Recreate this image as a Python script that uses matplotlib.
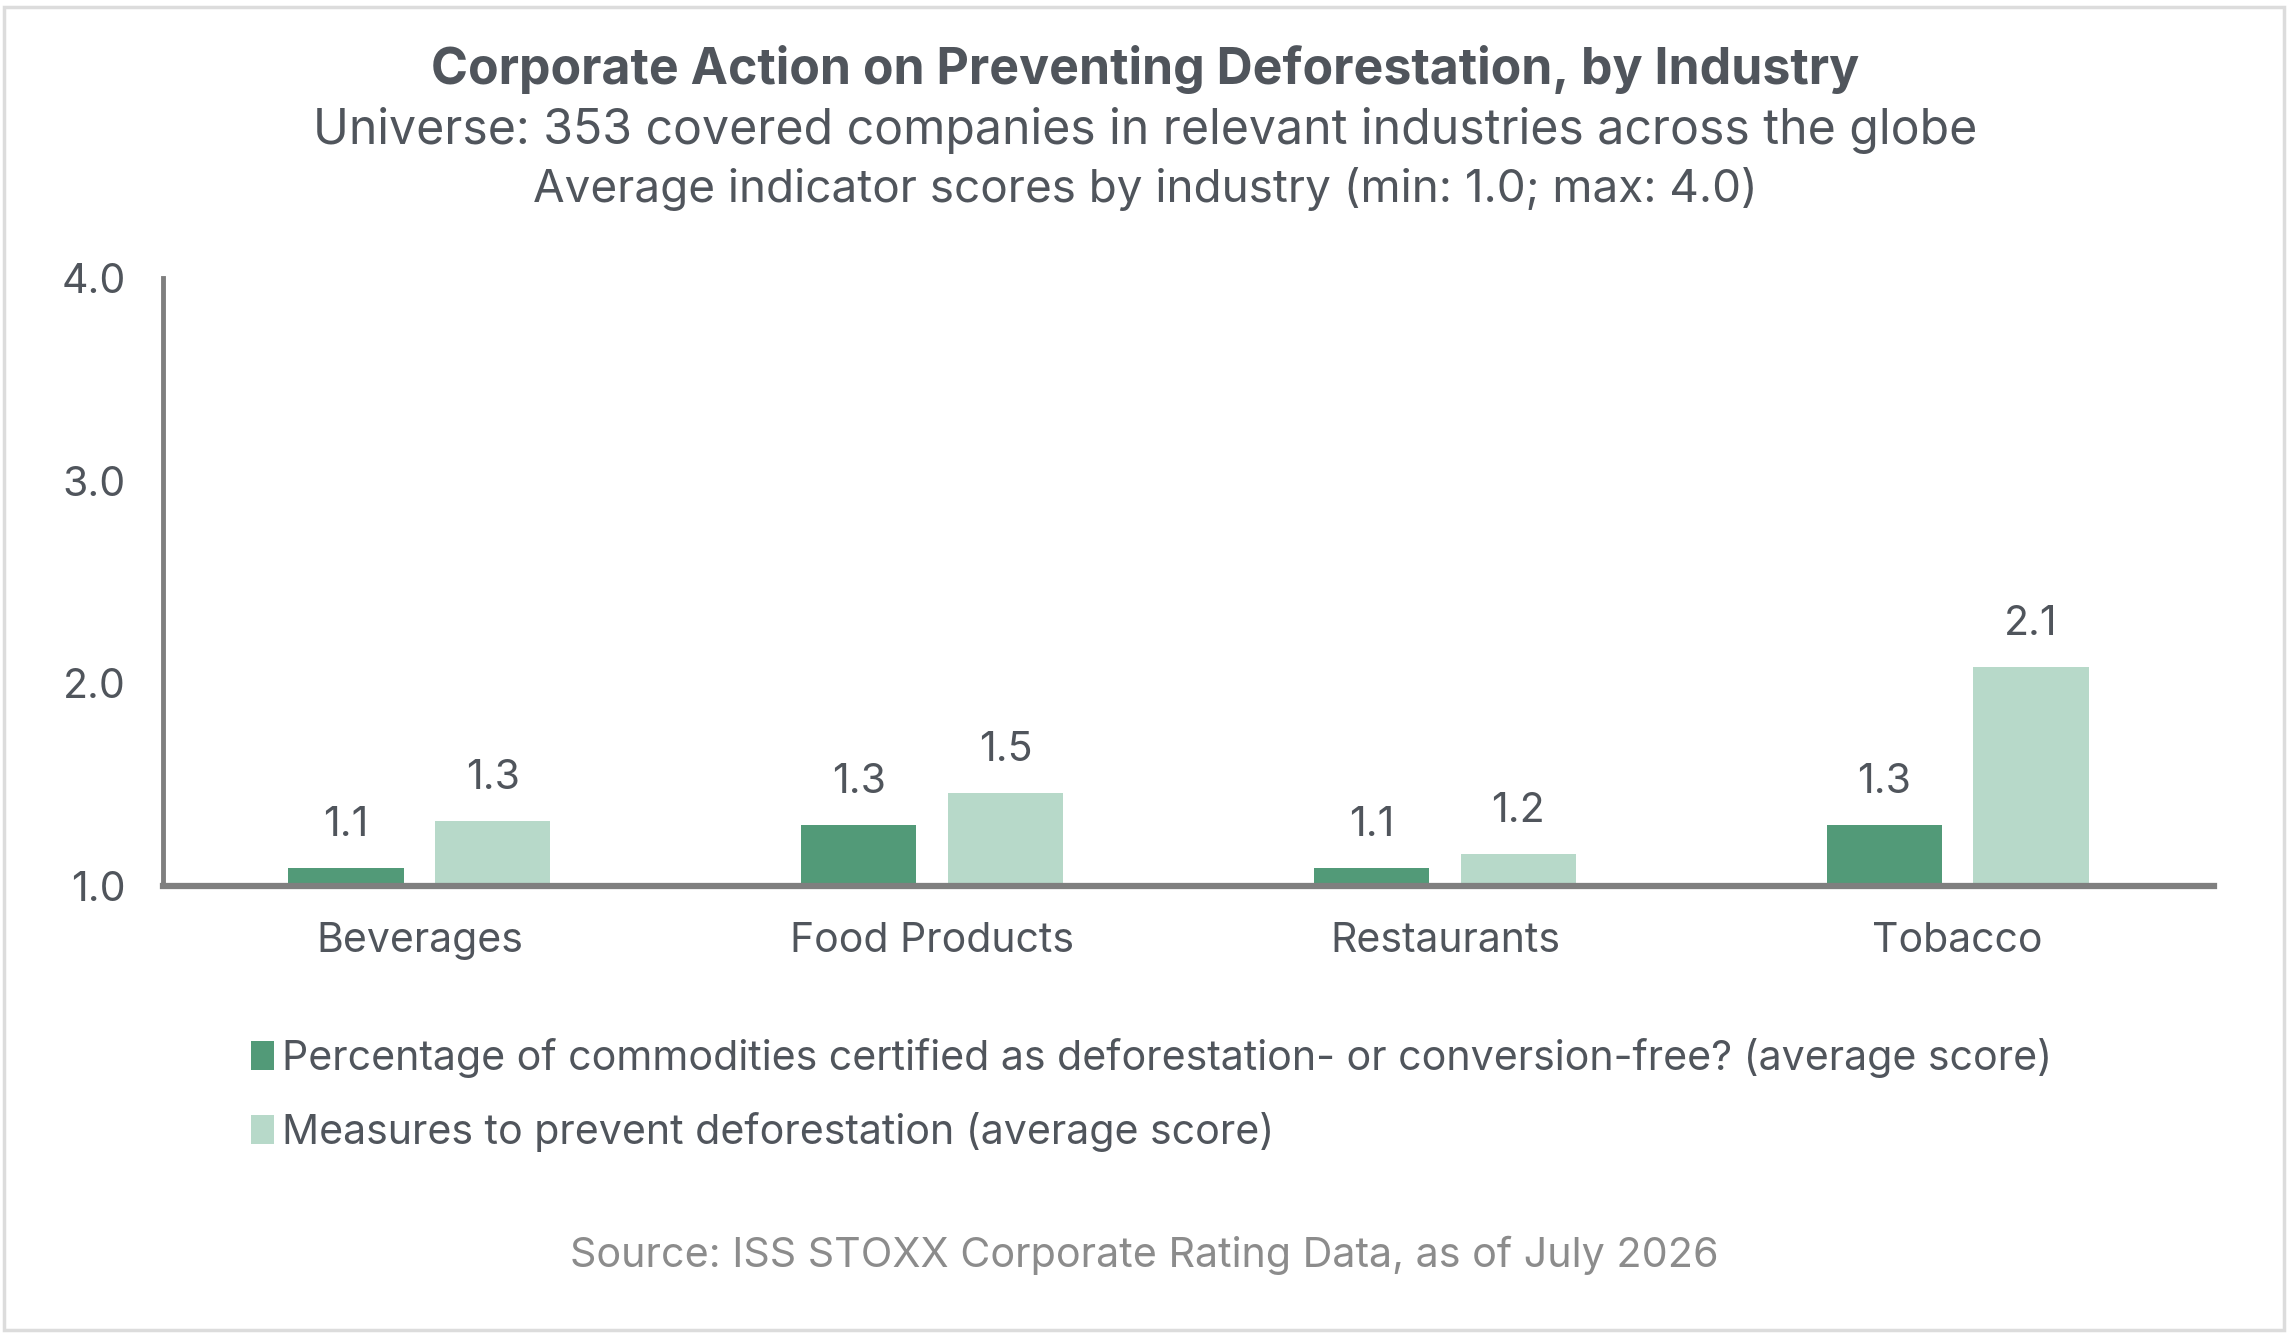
import matplotlib.pyplot as plt
import numpy as np
from matplotlib.patches import Patch, Rectangle

plt.rcParams["font.family"] = ["Inter", "DejaVu Sans"]

industries = ["Beverages", "Food Products", "Restaurants", "Tobacco"]
certified_scores = [1.09, 1.30, 1.09, 1.30]
measures_scores = [1.32, 1.46, 1.16, 2.08]
series_names = [
    "Percentage of commodities certified as deforestation- or conversion-free? (average score)",
    "Measures to prevent deforestation (average score)",
]
y_ticks = [1.0, 2.0, 3.0, 4.0]

DARK = "#529a78"
LIGHT = "#b7d9c9"
TEXT = "#50555c"
AXIS = "#7f7f7f"

W, H = 2291, 1333
fig = plt.figure(figsize=(W / 100, H / 100), dpi=100)
fig.patch.set_facecolor("white")

# light frame round the whole picture
fig.add_artist(Rectangle((4 / W, 3 / H), 1 - 11 / W, 1 - 10 / H, transform=fig.transFigure,
                         fill=False, edgecolor="#dcdcdc", linewidth=2.5))

ax = fig.add_axes([163 / W, 447 / H, (2214 - 163) / W, (886 - 278) / H])

x = np.arange(len(industries))
width = 0.225
off = 0.143
base = 1.0
b1 = ax.bar(x - off, np.array(certified_scores) - base, width, bottom=base, color=DARK)
b2 = ax.bar(x + off, np.array(measures_scores) - base, width, bottom=base, color=LIGHT)

for bars, vals in [(b1, certified_scores), (b2, measures_scores)]:
    for bar, v in zip(bars, vals):
        ax.annotate(f"{v:.1f}", (bar.get_x() + bar.get_width() / 2, v),
                    xytext=(0, 31), textcoords="offset points",
                    ha="center", va="center", fontsize=29.5, color=TEXT)

ax.set_xlim(-0.5, len(industries) - 0.5)
ax.set_ylim(1.0, 4.0)
ax.set_yticks(y_ticks)
ax.set_yticklabels([f"{t:.1f}" for t in y_ticks])
ax.set_xticks(x)
ax.set_xticklabels(industries)
ax.tick_params(axis="both", length=0, labelsize=29.5, labelcolor=TEXT)
ax.tick_params(axis="y", pad=27)
ax.tick_params(axis="x", pad=26)

for s in ["top", "right"]:
    ax.spines[s].set_visible(False)
ax.spines["left"].set_color(AXIS)
ax.spines["left"].set_linewidth(3.5)
ax.spines["bottom"].set_color(AXIS)
ax.spines["bottom"].set_linewidth(4.5)
ax.spines["bottom"].set_zorder(5)

fig.text(0.5, 1 - 70 / H, "Corporate Action on Preventing Deforestation, by Industry",
         ha="center", va="center", fontsize=36, fontweight="bold", color=TEXT)
fig.text(0.5, 1 - 131 / H, "Universe: 353 covered companies in relevant industries across the globe",
         ha="center", va="center", fontsize=34.7, color=TEXT)
fig.text(0.5, 1 - 189 / H, "Average indicator scores by industry (min: 1.0; max: 4.0)",
         ha="center", va="center", fontsize=33, color=TEXT)

handles = [Patch(facecolor=DARK), Patch(facecolor=LIGHT)]
fig.legend(handles, series_names, loc="upper left", bbox_to_anchor=(251 / W, 1 - 1038 / H),
           frameon=False, fontsize=29.6, labelcolor=TEXT, handlelength=0.55, handleheight=0.7,
           handletextpad=0.2, labelspacing=0.83, borderpad=0, borderaxespad=0)

fig.text(1144 / W, 1 - 1255 / H, "Source: ISS STOXX Corporate Rating Data, as of July 2026",
         ha="center", va="center", fontsize=29.7, color="#8c8c8c")

fig.savefig("out.png", dpi=100)
